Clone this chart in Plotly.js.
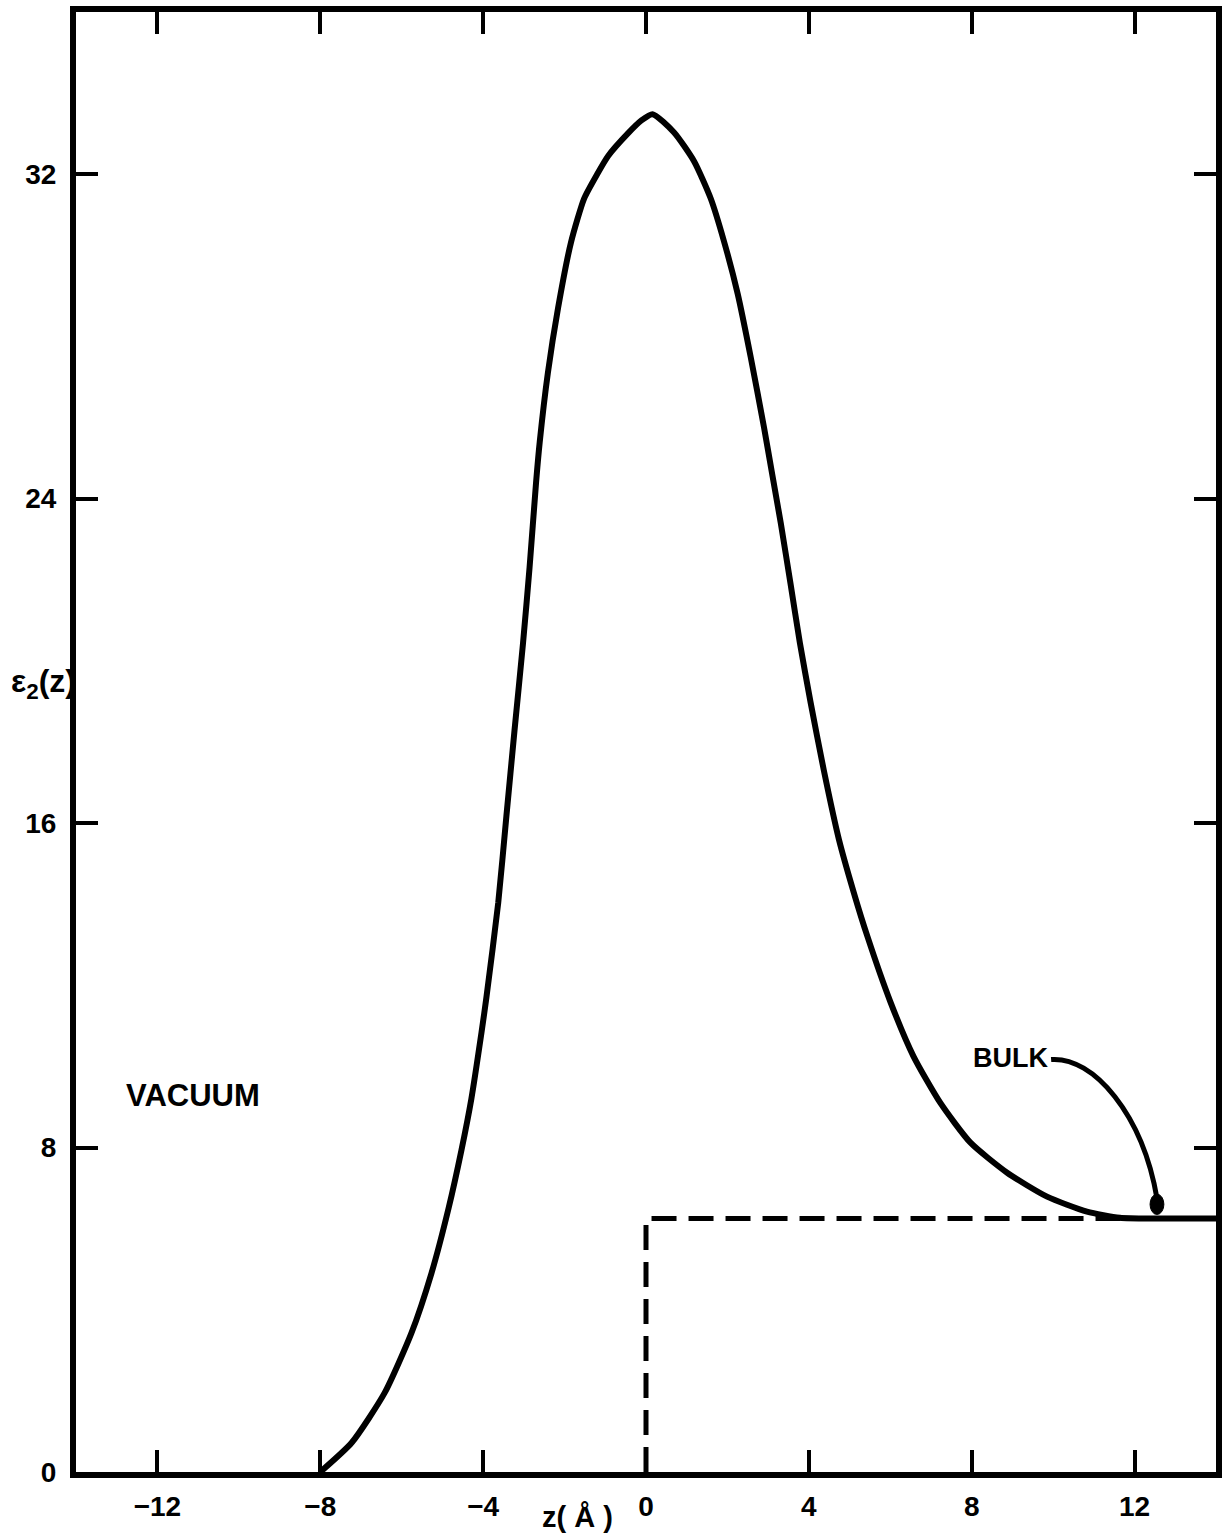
<!DOCTYPE html>
<html>
<head>
<meta charset="utf-8">
<script src="https://cdn.plot.ly/plotly-3.0.1.min.js"></script>
<style>
  html, body { margin: 0; padding: 0; background: #ffffff; }
  #chart { width: 1225px; height: 1538px; }
</style>
</head>
<body>
<div id="chart"></div>
<script>
// Imaginary part of the local dielectric function across the surface region
const zValues = [
  -8, -7.23, -6.42, -5.76, -5.27, -4.85, -4.53, -4.29, -4.04, -3.92,
  -3.63, -3.43, -3.23, -3.02, -2.86, -2.70, -2.61, -2.41, -2.16, -1.84,
  -1.52, -1.2, -0.93, -0.45, -0.12, 0.16, 0.69, 1.18, 1.59, 1.92,
  2.25, 2.57, 2.90, 3.10, 3.31, 3.55, 3.78, 4.04, 4.37, 4.74,
  5.10, 5.44, 6.00, 6.57, 7.23, 7.97, 8.87, 9.85, 10.83, 11.64,
  12.5, 14
];
const eps2Values = [
  0, 0.72, 1.95, 3.43, 4.9, 6.5, 7.95, 9.2, 10.84, 11.7,
  14.03, 16.16, 18.28, 20.44, 22.3, 24.4, 25.4, 27.1, 28.7, 30.33,
  31.4, 32.0, 32.45, 33.0, 33.32, 33.48, 33.03, 32.32, 31.4, 30.33,
  29.06, 27.5, 25.75, 24.6, 23.4, 21.9, 20.44, 18.99, 17.29, 15.59,
  14.3, 13.2, 11.6, 10.25, 9.1, 8.12, 7.38, 6.79, 6.42, 6.27,
  6.25, 6.25
];

// Step profile of the bulk value, zero in the vacuum
const bulkZ = [0, 0, 14];
const bulkEps2 = [0, 6.25, 6.25];

// Axis ticks
const xTicks = [-12, -8, -4, 0, 4, 8, 12];
const yTicks = [0, 8, 16, 24, 32];

const ink = '#000000';
const tickFont = { family: 'Liberation Sans, Arial, sans-serif', size: 28, color: ink, weight: 'bold' };
const labelFont = { family: 'Liberation Sans, Arial, sans-serif', color: ink, weight: 'bold' };

const traces = [
  {
    x: bulkZ, y: bulkEps2, type: 'scatter', mode: 'lines',
    line: { color: ink, width: 5, dash: '25px,12px' },
    hoverinfo: 'skip', showlegend: false
  },
  {
    x: zValues, y: eps2Values, type: 'scatter', mode: 'lines',
    line: { color: ink, width: 6, shape: 'spline', smoothing: 0.6 },
    hoverinfo: 'skip', showlegend: false
  }
];

const axisCommon = {
  showgrid: false, zeroline: false,
  showline: true, linecolor: ink, linewidth: 6, mirror: 'ticks',
  ticks: 'inside', ticklen: 22, tickwidth: 4, tickcolor: ink,
  tickfont: tickFont, autorange: false, fixedrange: true
};

const layout = {
  width: 1225, height: 1538,
  margin: { l: 76, r: 9, t: 12, b: 66 },
  paper_bgcolor: '#ffffff', plot_bgcolor: '#ffffff',
  showlegend: false,
  xaxis: Object.assign({}, axisCommon, {
    range: [-14, 14], tickmode: 'array', tickvals: xTicks,
    ticktext: xTicks.map(v => v < 0 ? '\u2212' + Math.abs(v) : String(v)),
    ticklabelstandoff: 4
  }),
  yaxis: Object.assign({}, axisCommon, {
    range: [0, 36], tickmode: 'array', tickvals: yTicks,
    ticktext: yTicks.map(String),
    ticklabelstandoff: 8
  }),
  shapes: [
    // leader from the BULK label to the bulk level
    {
      type: 'path', xref: 'x', yref: 'y',
      path: 'M 9.95,10.17 C 11.0,10.25 12.2,8.8 12.55,6.75',
      line: { color: ink, width: 5 }
    },
    {
      type: 'circle', xref: 'x', yref: 'y',
      x0: 12.38, x1: 12.72, y0: 6.35, y1: 6.85,
      fillcolor: ink, line: { color: ink, width: 1 }
    }
  ],
  annotations: [
    {
      text: 'BULK', xref: 'x', yref: 'y', x: 8.95, y: 10.2,
      showarrow: false, font: Object.assign({ size: 27 }, labelFont)
    },
    {
      text: 'VACUUM', xref: 'x', yref: 'y', x: -11.13, y: 9.28,
      showarrow: false, font: Object.assign({ size: 31 }, labelFont)
    },
    {
      text: 'z( Å )', xref: 'paper', yref: 'paper', x: 0.44, y: -0.031,
      xanchor: 'center', yanchor: 'middle',
      showarrow: false, font: Object.assign({ size: 29 }, labelFont)
    },
    {
      text: 'ε<sub>2</sub>(z)', xref: 'paper', yref: 'paper', x: 0, y: 0.54,
      xanchor: 'right', yanchor: 'middle', xshift: 2,
      showarrow: false, font: Object.assign({ size: 32 }, labelFont)
    }
  ]
};

Plotly.newPlot('chart', traces, layout, { displayModeBar: false, staticPlot: true });
</script>
</body>
</html>
